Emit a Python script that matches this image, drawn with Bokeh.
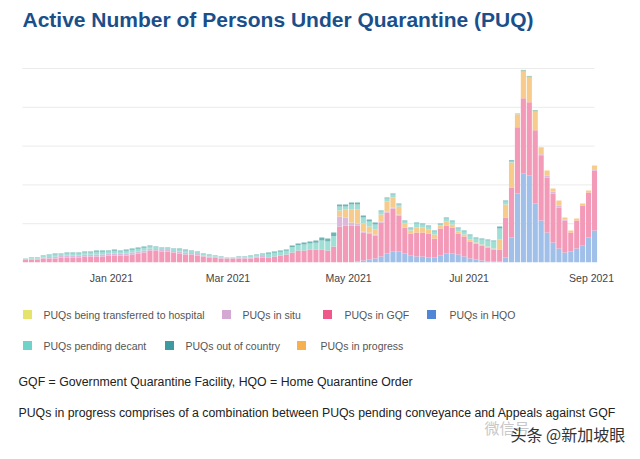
import datetime as dt
from bokeh.plotting import figure
from bokeh.models import ColumnDataSource, Range1d, FixedTicker, DatetimeTickFormatter
from bokeh.layouts import column
from bokeh.embed import file_html
from bokeh.resources import INLINE
from bokeh.core.properties import value

# ---------------- data (3-day bars starting 18 Nov 2020) ----------------
first_day = dt.datetime(2020, 11, 18, 12)
step_days = 3

hqo = [0] * 56 + [
    260, 520, 770, 1030, 1550, 2320, 2840, 2840, 2320, 1810,
    1550, 1550, 1290, 1290, 1810, 2320, 2320, 2060, 1550, 1030,
    770, 520, 260, 260, 260, 1290, 6450, 17800, 22960, 22450,
    15220, 10840, 7740, 5160, 3610, 2580, 2840, 3610, 4390, 6450,
    8260]

gqf = [770, 770, 770, 1030, 1030, 1030, 1290, 1290, 1290, 1290,
       1550, 1550, 1550, 1550, 1810, 1810, 1810, 1810, 2060, 2320,
       2580, 3100, 3100, 2840, 2840, 2580, 2320, 2060, 2060, 1810,
       1550, 1290, 1290, 1030, 1030, 1030, 1030, 1030, 1030, 1290,
       1290, 1290, 1550, 1810, 2060, 2580, 3100, 3100, 3350, 3350,
       3350, 3100, 4130, 9290, 9550, 9550, 9290, 7220, 6710, 5930,
       8770, 10580, 11090, 9290, 6710, 5680, 6190, 6190, 6190, 4900,
       6970, 7220, 6710, 5420, 5160, 4390, 4130, 3870, 3610, 3100,
       3100, 10320, 12900, 17030, 19350, 18830, 18830, 16770, 14190, 12640,
       10580, 8260, 4900, 7220, 10320, 11610, 15480]

in_situ = [90, 180, 180, 270, 360, 450, 360, 450, 450, 450,
           450, 450, 540, 540, 450, 540, 450, 540, 540, 540,
           540, 450, 360, 360, 360, 360, 450, 450, 360, 360,
           270, 270, 180, 180, 90, 90, 180, 180, 270, 270,
           360, 0, 0, 0, 0, 0, 0, 0, 0, 0,
           0, 0, 0, 2580, 2060, 770, 520, 260, 260, 260,
           260, 260, 260, 260, 0, 0, 0, 0, 0, 0,
           0, 0, 0, 0, 0, 0, 0, 0, 0, 0,
           0, 0, 0, 0, 0, 0, 0, 260, 520, 520,
           520, 260, 0, 0, 0, 0, 260]

in_progress = [0] * 50 + [
    0, 0, 0, 1550, 2060, 3350, 3610, 2060, 1550, 1290,
    1810, 2580, 2580, 2060, 1030, 770, 1290, 1290, 1030, 1030,
    770, 1030, 770, 520, 520, 520, 260, 260, 260, 260,
    2580, 3350, 6450, 3350, 6970, 6450, 4900, 1810, 1290, 770,
    1290, 520, 520, 520, 520, 520, 1030]

pending_decant = [120, 230, 230, 350, 460, 580, 460, 580, 580, 580,
                  580, 580, 700, 700, 580, 700, 580, 700, 700, 700,
                  700, 580, 460, 460, 460, 460, 580, 580, 460, 460,
                  350, 350, 230, 230, 120, 120, 230, 230, 350, 350,
                  460, 970, 970, 970, 970, 1360, 1360, 1550, 1550, 1750,
                  2330, 2330, 2720, 1030, 770, 1290, 1290, 1550, 1290, 1290,
                  770, 770, 770, 520, 520, 520, 1030, 770, 770, 770,
                  260, 770, 770, 770, 770, 1030, 1030, 1290, 1550, 1810,
                  2840, 770, 260, 260, 0, 0, 0, 0, 0, 0,
                  0, 0, 0, 0, 0, 0, 0]

out_of_country = [50, 100, 100, 150, 210, 260, 210, 260, 260, 260,
                  260, 260, 310, 310, 260, 310, 260, 310, 310, 310,
                  310, 260, 210, 210, 210, 210, 260, 260, 210, 210,
                  150, 150, 100, 100, 50, 50, 100, 100, 150, 150,
                  210, 320, 320, 320, 320, 450, 450, 520, 520, 580,
                  770, 770, 900, 520, 520, 520, 520, 520, 520, 520,
                  260, 260, 260, 260, 260, 260, 260, 260, 260, 260,
                  260, 260, 260, 260, 260, 260, 260, 260, 260, 260,
                  520, 260, 260, 0, 260, 260, 260, 0, 0, 0,
                  0, 0, 0, 0, 0, 0, 0]

to_hospital = [0] * 80 + [0, 0, 0, 100, 130, 130, 100, 50, 0, 0] + [0] * 7

tick_dates = ["2021-01-01", "2021-03-01", "2021-05-01", "2021-07-01", "2021-09-01"]
grid_values = [10000, 20000, 30000, 40000, 50000]

title_text = "Active Number of Persons Under Quarantine (PUQ)"
legend_row1 = ["PUQs being transferred to hospital", "PUQs in situ", "PUQs in GQF", "PUQs in HQO"]
legend_row2 = ["PUQs pending decant", "PUQs out of country", "PUQs in progress"]
note1 = "GQF = Government Quarantine Facility, HQO = Home Quarantine Order"
note2 = "PUQs in progress comprises of a combination between PUQs pending conveyance and Appeals against GQF"

# ---------------- layout / styling ----------------
FONT = value("Liberation Sans")
W = 640
DAY_MS = 86400000
px_per_day = 573 / 290.0
chart_start = dt.datetime(2020, 11, 17)
chart_end = dt.datetime(2021, 9, 2, 12)
x_start = chart_start - dt.timedelta(days=22 / px_per_day)
x_end = x_start + dt.timedelta(days=W / px_per_day)

n = len(hqo)
dates = [first_day + dt.timedelta(days=step_days * i) for i in range(n)]
src = ColumnDataSource(dict(date=dates, hqo=hqo, gqf=gqf, in_situ=in_situ,
                            in_progress=in_progress, pending_decant=pending_decant,
                            out_of_country=out_of_country, to_hospital=to_hospital))

stack_keys = ["hqo", "gqf", "in_situ", "in_progress", "pending_decant", "out_of_country", "to_hospital"]
bar_colors = ["#a0bfe9", "#f49ab9", "#dcb9dc", "#f7cb8c", "#9fdfd6", "#6fb5b5", "#eeea8a"]


def blank(h):
    f = figure(width=W, height=h, x_range=Range1d(0, W), y_range=Range1d(h, 0),
               x_axis_location=None, y_axis_location=None, min_border=0,
               output_backend="svg", toolbar_location=None)
    f.outline_line_color = None
    f.grid.visible = False
    return f


# header
HH = 48
p_head = blank(HH)
p_head.text(x=[22], y=[19], text=[title_text], text_font=FONT, text_font_size="21px",
            text_font_style="bold", text_color="#1b4f8a", text_baseline="middle", text_align="left")

# main chart
epoch = dt.datetime(1970, 1, 1)
tick_ms = [(dt.datetime.strptime(d, "%Y-%m-%d") - epoch).total_seconds() * 1000 for d in tick_dates]

p = figure(width=W, height=242, x_axis_type="datetime",
           x_range=Range1d(x_start, x_end), y_range=Range1d(0, 55150),
           y_axis_location=None,
           min_border_left=0, min_border_right=0, min_border_top=0, min_border_bottom=28,
           output_backend="svg", toolbar_location=None)
p.outline_line_color = None
p.grid.visible = False

p.segment(x0=[chart_start] * len(grid_values), x1=[chart_end] * len(grid_values),
          y0=grid_values, y1=grid_values, line_color="#ebebeb", line_width=1)

p.vbar_stack(stack_keys, x="date", width=2.6 * DAY_MS, color=bar_colors,
             line_color=None, source=src)

xa = p.xaxis[0]
xa.ticker = FixedTicker(ticks=tick_ms)
xa.formatter = DatetimeTickFormatter(days="%b %Y", months="%b %Y", years="%b %Y")
xa.axis_line_color = None
xa.major_tick_line_color = None
xa.minor_tick_line_color = None
xa.major_label_standoff = 3
xa.major_label_text_font = "Liberation Sans"
xa.major_label_text_font_size = "10.5px"
xa.major_label_text_color = "#444444"

# footer: legend + notes
HF = 459 - HH - 242
pf = blank(HF)

sw1_x = [27, 226, 327, 431]
tx1_x = [43, 242, 344, 449]
sw1_c = ["#e6e36c", "#d3a9d3", "#f0588b", "#4f86d6"]
sw2_x = [27, 169, 301]
tx2_x = [43, 185, 320]
sw2_c = ["#6fd3c9", "#3d9a9e", "#f7b04e"]

pf.scatter(x=sw1_x, y=[24] * 4, marker="square", size=9, color=sw1_c, line_color=None)
pf.scatter(x=sw2_x, y=[55] * 3, marker="square", size=9, color=sw2_c, line_color=None)
pf.text(x=tx1_x, y=[24] * 4, text=legend_row1, text_font=FONT, text_font_size="10.5px",
        text_color="#555555", text_baseline="middle", text_align="left")
pf.text(x=tx2_x, y=[55] * 3, text=legend_row2, text_font=FONT, text_font_size="10.5px",
        text_color="#555555", text_baseline="middle", text_align="left")

pf.text(x=[18], y=[91], text=[note1], text_font=FONT, text_font_size="12.3px",
        text_color="#222222", text_baseline="middle", text_align="left")
pf.text(x=[18], y=[122], text=[note2], text_font=FONT, text_font_size="12.3px",
        text_color="#222222", text_baseline="middle", text_align="left")
pf.text(x=[484], y=[137], text=["微信号"], text_font=value("Noto Sans CJK SC"), text_font_size="15px",
        text_color="#c8c8c8", text_baseline="middle", text_align="left")
pf.text(x=[510], y=[143], text=["头条 @新加坡眼"], text_font=value("Noto Sans CJK SC"), text_font_size="16px",
        text_color="#333333", text_baseline="middle", text_align="left")

layout = column(p_head, p, pf, spacing=0)
open("out.html", "w").write(file_html(layout, INLINE))
